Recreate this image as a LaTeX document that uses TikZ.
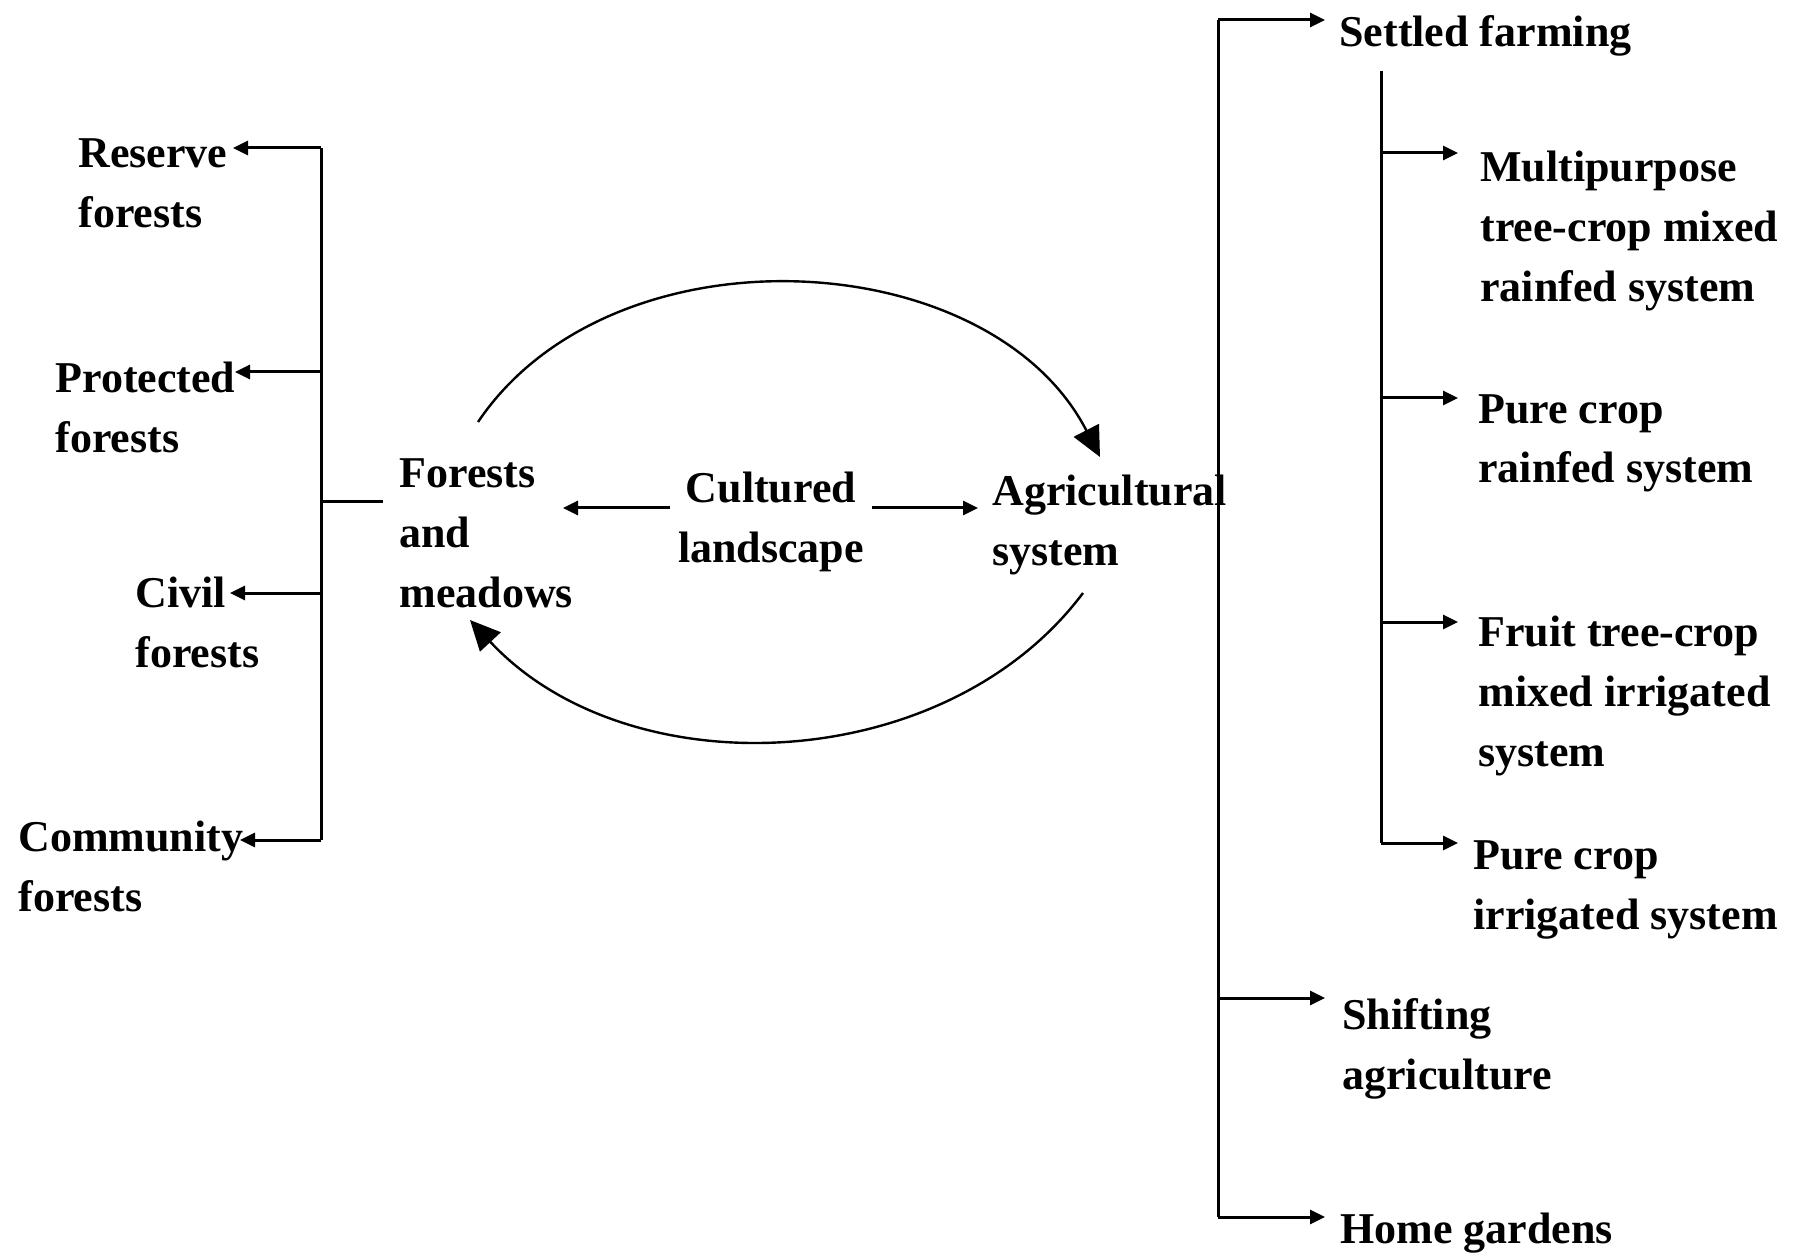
\documentclass[tikz,border=0pt]{standalone}
\usepackage{fontspec}
\setmainfont{Liberation Serif}
\usetikzlibrary{arrows.meta}
\begin{document}
\begin{tikzpicture}[x=0.5pt,y=-0.5pt]
\tikzset{
 lbl/.style={anchor=base west, align=left, inner sep=0pt, font=\fontsize{22}{30}\selectfont\bfseries},
 clbl/.style={lbl, anchor=base, align=center},
 conn/.style={line width=1.5pt, -{Triangle[length=7.5pt,width=7pt]}},
 trunk/.style={line width=1.5pt},
 arcarrow/.style={line width=1.2pt, -{Triangle[length=15pt,width=14pt]}},
}
\useasboundingbox (0,0) rectangle (1796,1257);
% labels (anchor = baseline of the last line)
\node[lbl] (reserve) at (78,228) {Reserve\\forests};
\node[lbl] (protected) at (55,452) {Protected\\forests};
\node[lbl] (civil) at (135,667) {Civil\\forests};
\node[lbl] (community) at (18,911) {Community\\forests};
\node[lbl] (forests) at (399,607) {Forests\\and\\meadows};
\node[clbl] (cultured) at (771,562) {Cultured\\landscape};
\node[lbl] (agri) at (992,566) {Agricultural\\system};
\node[lbl] (settled) at (1339,47) {Settled farming};
\node[lbl] (multi) at (1480,302) {Multipurpose\\tree-crop mixed\\rainfed system};
\node[lbl] (purerain) at (1478,483) {Pure crop\\rainfed system};
\node[lbl] (fruit) at (1478,766) {Fruit tree-crop\\mixed irrigated\\system};
\node[lbl] (pureirr) at (1473,929) {Pure crop\\irrigated system};
\node[lbl] (shifting) at (1342,1089) {Shifting\\agriculture};
\node[lbl] (home) at (1340,1243) {Home gardens};
% left bracket
\coordinate (lvR) at (321,148);
\coordinate (lvP) at (321,372);
\coordinate (lvS) at (321,502);
\coordinate (lvC) at (321,593);
\coordinate (lvM) at (321,840);
\coordinate (tipR) at (233,148);
\coordinate (tipP) at (235,372);
\coordinate (tipC) at (230,593);
\coordinate (tipM) at (240,840);
\coordinate (stubE) at (383,502);
\draw[trunk] (lvR) -- (lvM);
\draw[trunk] (lvS) -- (stubE);
\draw[conn] (lvR) -- (tipR);
\draw[conn] (lvP) -- (tipP);
\draw[conn] (lvC) -- (tipC);
\draw[conn] (lvM) -- (tipM);
% centre
\coordinate (cwest) at (670,508);
\coordinate (ceast) at (872,508);
\coordinate (fEast) at (563,508);
\coordinate (aWest) at (978,508);
\draw[conn] (cwest) -- (fEast);
\draw[conn] (ceast) -- (aWest);
\coordinate (topS) at (478,422);
\coordinate (topE) at (1100,457);
\coordinate (botS) at (1083,593);
\coordinate (botE) at (470,620);
\draw[arcarrow] (topS) .. controls (612,223) and (990,243) .. (topE);
\draw[arcarrow] (botS) .. controls (945,777) and (628,790) .. (botE);
% right trunk
\coordinate (rtT) at (1218,20);
\coordinate (rtS) at (1218,998);
\coordinate (rtH) at (1218,1217);
\coordinate (tipSet) at (1325,20);
\coordinate (tipShift) at (1325,998);
\coordinate (tipHome) at (1325,1217);
\draw[trunk] (rtT) -- (rtH);
\draw[conn] (rtT) -- (tipSet);
\draw[conn] (rtS) -- (tipShift);
\draw[conn] (rtH) -- (tipHome);
% sub trunk
\coordinate (sbT) at (1381,71);
\coordinate (sb1) at (1381,153);
\coordinate (sb2) at (1381,398);
\coordinate (sb3) at (1381,622);
\coordinate (sb4) at (1381,843);
\coordinate (tp1) at (1458,153);
\coordinate (tp2) at (1458,398);
\coordinate (tp3) at (1458,622);
\coordinate (tp4) at (1458,843);
\draw[trunk] (sbT) -- (sb4);
\draw[conn] (sb1) -- (tp1);
\draw[conn] (sb2) -- (tp2);
\draw[conn] (sb3) -- (tp3);
\draw[conn] (sb4) -- (tp4);
\end{tikzpicture}
\end{document}
